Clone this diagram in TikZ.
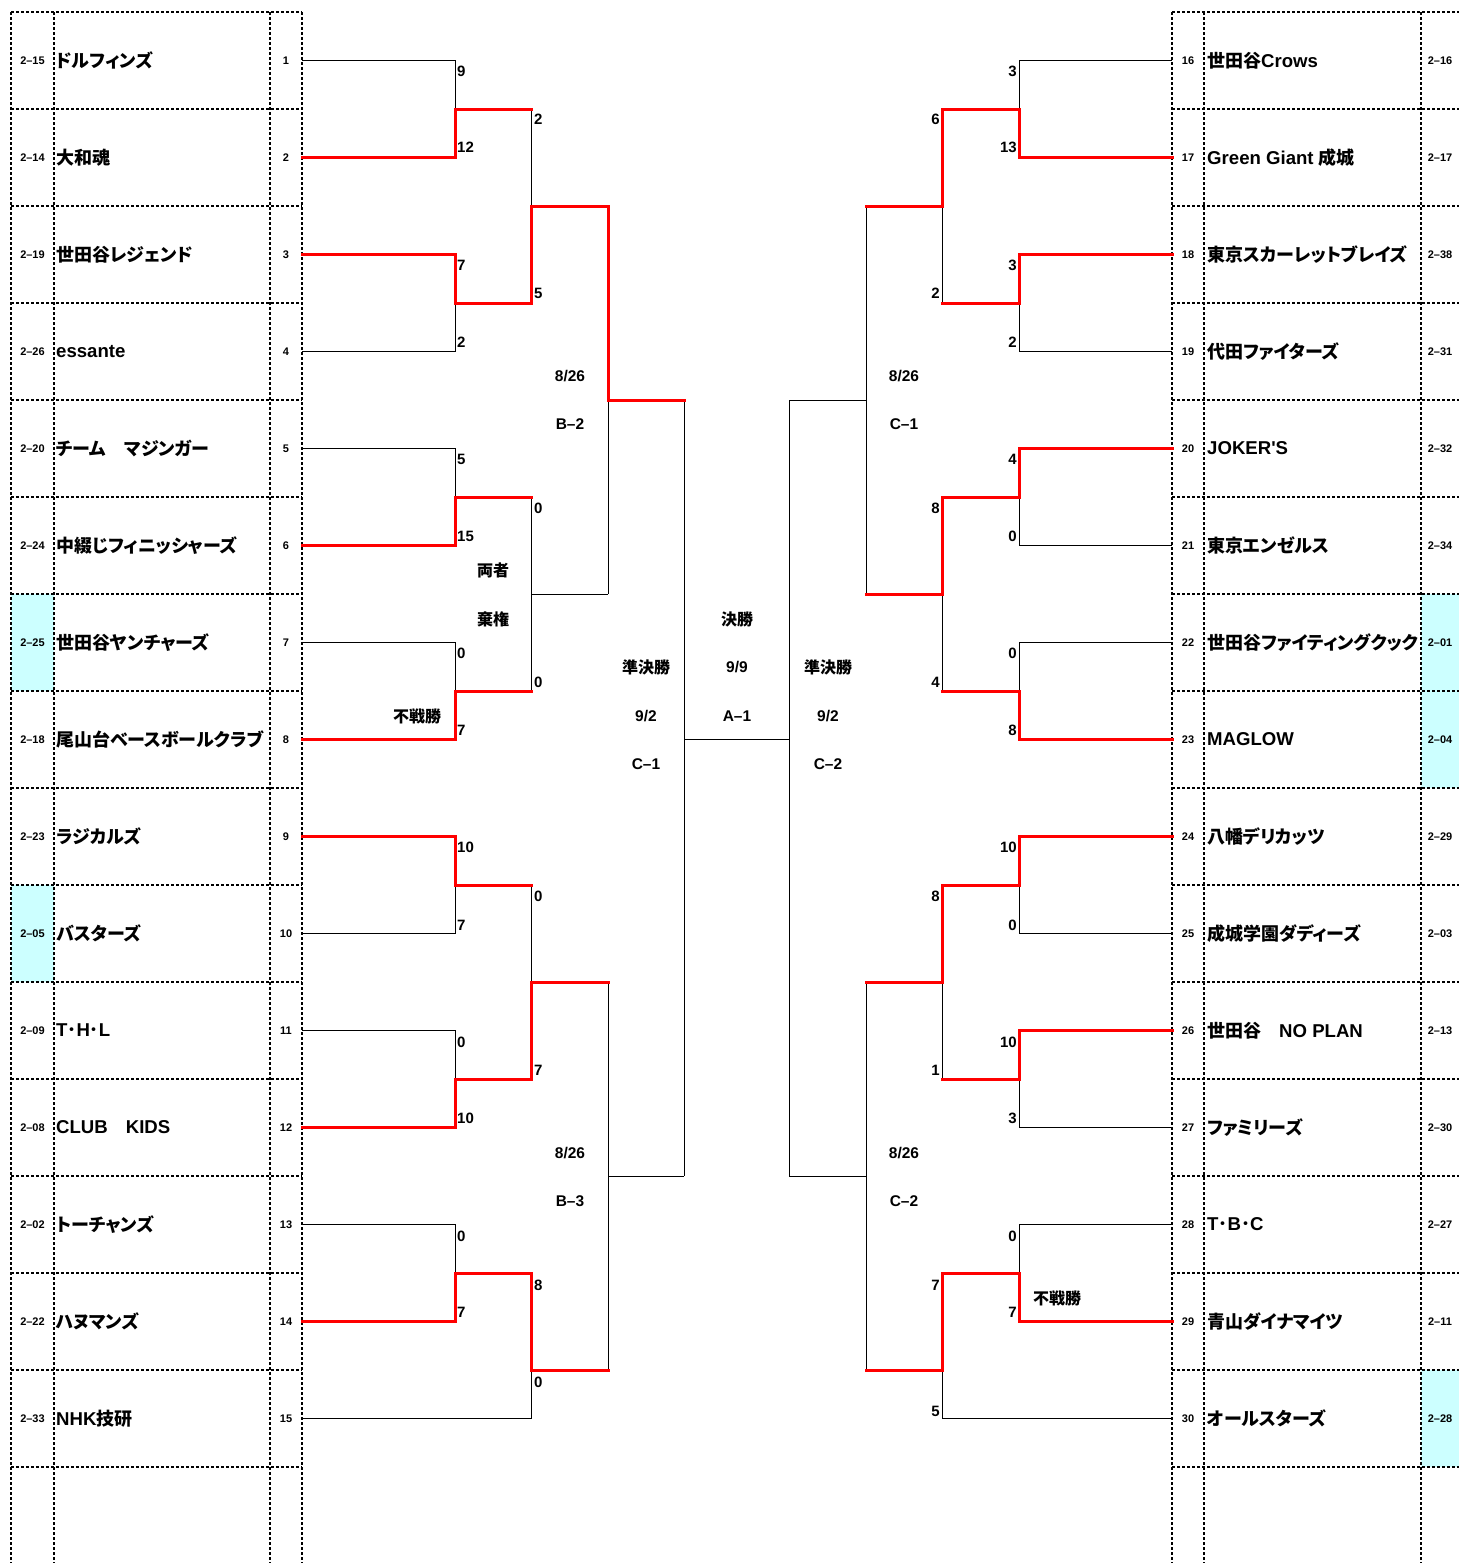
\documentclass[tikz,border=0pt]{standalone}
\usepackage{fontspec}
\setmainfont{Liberation Sans}
\newfontfamily\lsb{Liberation Sans Bold}
\newfontfamily\jp{Noto Sans CJK JP}[RawFeature=+palt]
\newfontfamily\jpn{Noto Sans CJK JP}[RawFeature=+palt, Scale=0.9]
\newfontfamily\latn{Liberation Sans Bold}[Scale=0.93]
\definecolor{cyanfill}{RGB}{204,255,255}
\definecolor{bred}{RGB}{255,0,0}
\pgfdeclarelayer{toplayer}
\pgfsetlayers{main,toplayer}
\tikzset{
  gridline/.style={line width=1.8pt, dash pattern=on 3pt off 2pt},
  lose/.style={line width=1pt, black},
  win/.style={line width=3pt, bred, line cap=rect},
  code/.style={font=\fontsize{11}{11}\selectfont\bfseries\lsb, inner sep=0pt},
  seed/.style={font=\fontsize{11}{11}\selectfont\bfseries\lsb, inner sep=0pt},
  tname/.style={font=\fontsize{20}{20}\selectfont\bfseries\lsb, inner sep=0pt, anchor=west},
  score/.style={font=\fontsize{15}{15}\selectfont\bfseries\lsb, inner sep=0pt},
  lbl/.style={font=\fontsize{15.5}{15.5}\selectfont\bfseries\lsb, inner sep=0pt},
  jlbl/.style={font=\fontsize{16}{16}\selectfont\bfseries\jp, inner sep=0pt},
}
\newcommand\mtop[4]{\draw[lose] (#2) -| (#3);
  \begin{pgfonlayer}{toplayer}\draw[win] (#1) -| (#3) -- (#4);\end{pgfonlayer}}
\newcommand\mbot[4]{\draw[lose] (#1) -| (#3);
  \begin{pgfonlayer}{toplayer}\draw[win] (#2) -| (#3) -- (#4);\end{pgfonlayer}}
\newcommand\mnone[4]{\draw[lose] (#1) -| (#3); \draw[lose] (#2) -| (#3) -- (#4);}
\begin{document}
\begin{tikzpicture}[x=1pt,y=-1pt]
\path[use as bounding box, fill=white] (0,0) rectangle (1459,1563);
% cyan cells
\fill[cyanfill] (11,594) rectangle (54,691);
\fill[cyanfill] (11,885) rectangle (54,982);
\fill[cyanfill] (1421,594) rectangle (1459,788);
\fill[cyanfill] (1421,1370) rectangle (1459,1467);
% grid
\foreach \x in {11,54,270,302,1172,1204,1421} \draw[gridline] (\x,12) -- (\x,1563);
\foreach \k in {0,...,15} {
  \draw[gridline] (11,{12+97*\k}) -- (302,{12+97*\k});
  \draw[gridline] (1172,{12+97*\k}) -- (1459,{12+97*\k});
}
% coordinates
\foreach \i in {1,...,15} \coordinate (s\i) at (302,{12+97*(\i-0.5)});
\foreach \i in {16,...,30} \coordinate (s\i) at (1172,{12+97*(\i-15.5)});
\foreach \k in {1,...,7} {
  \coordinate (la\k) at (455,{12+97*(2*\k-1)});
  \coordinate (lb\k) at (531,{12+97*(2*\k-1)});
  \coordinate (ra\k) at (1019,{12+97*(2*\k-1)});
  \coordinate (rb\k) at (942,{12+97*(2*\k-1)});
}
\foreach \k in {1,...,4} {
  \coordinate (lc\k) at (531,{12+97*(4*\k-2)});
  \coordinate (ld\k) at (608,{12+97*(4*\k-2)});
  \coordinate (rc\k) at (942,{12+97*(4*\k-2)});
  \coordinate (rd\k) at (866,{12+97*(4*\k-2)});
}
\foreach \k in {1,2} {
  \coordinate (le\k) at (608,{12+97*(8*\k-4)});
  \coordinate (lf\k) at (684,{12+97*(8*\k-4)});
  \coordinate (re\k) at (866,{12+97*(8*\k-4)});
  \coordinate (rf\k) at (789,{12+97*(8*\k-4)});
}
\coordinate (lg) at (684,739.5);
\coordinate (rg) at (789,739.5);
% left bracket
\mbot{s1}{s2}{la1}{lb1}
\mtop{s3}{s4}{la2}{lb2}
\mbot{s5}{s6}{la3}{lb3}
\mbot{s7}{s8}{la4}{lb4}
\mtop{s9}{s10}{la5}{lb5}
\mbot{s11}{s12}{la6}{lb6}
\mbot{s13}{s14}{la7}{lb7}
\mbot{lb1}{lb2}{lc1}{ld1}
\mnone{lb3}{lb4}{lc2}{ld2}
\mbot{lb5}{lb6}{lc3}{ld3}
\mtop{lb7}{s15}{lc4}{ld4}
\mtop{ld1}{ld2}{le1}{lf1}
\mnone{ld3}{ld4}{le2}{lf2}
% right bracket
\mbot{s16}{s17}{ra1}{rb1}
\mtop{s18}{s19}{ra2}{rb2}
\mtop{s20}{s21}{ra3}{rb3}
\mbot{s22}{s23}{ra4}{rb4}
\mtop{s24}{s25}{ra5}{rb5}
\mtop{s26}{s27}{ra6}{rb6}
\mbot{s28}{s29}{ra7}{rb7}
\mtop{rb1}{rb2}{rc1}{rd1}
\mtop{rb3}{rb4}{rc2}{rd2}
\mtop{rb5}{rb6}{rc3}{rd3}
\mtop{rb7}{s30}{rc4}{rd4}
\mnone{rd1}{rd2}{re1}{rf1}
\mnone{rd3}{rd4}{re2}{rf2}
% semifinals and final
\draw[lose] (lf1) -- (lf2);
\draw[lose] (rf1) -- (rf2);
\draw[lose] (lg) -- (rg);
% left teams
\foreach \i/\c/\n in {
  1/2–15/{\jpn ドルフィンズ},
  2/2–14/{\jpn 大和魂},
  3/2–19/{\jpn 世田谷レジェンド},
  4/2–26/{\latn essante},
  5/2–20/{\jpn チーム　マジンガー},
  6/2–24/{\jpn 中綴じフィニッシャーズ},
  7/2–25/{\jpn 世田谷ヤンチャーズ},
  8/2–18/{\jpn 尾山台ベースボールクラブ},
  9/2–23/{\jpn ラジカルズ},
  10/2–05/{\jpn バスターズ},
  11/2–09/{\latn T\jpn ･\latn H\jpn ･\latn L},
  12/2–08/{\latn CLUB\jpn 　\latn KIDS},
  13/2–02/{\jpn トーチャンズ},
  14/2–22/{\jpn ハヌマンズ},
  15/2–33/{\latn NHK\jpn 技研}} {
  \node[code] (code\i) at (32.5,{12+97*(\i-0.5)}) {\c};
  \node[tname] (name\i) at (56,{12+97*(\i-0.5)}) {\n};
  \node[seed] (seed\i) at (286,{12+97*(\i-0.5)}) {\i};
}
% right teams
\foreach \i/\c/\n in {
  16/2–16/{\jpn 世田谷\latn Crows},
  17/2–17/{\latn Green Giant \jpn 成城},
  18/2–38/{\jpn 東京スカーレットブレイズ},
  19/2–31/{\jpn 代田ファイターズ},
  20/2–32/{\latn JOKER'S},
  21/2–34/{\jpn 東京エンゼルス},
  22/2–01/{\jpn 世田谷ファイティングクック},
  23/2–04/{\latn MAGLOW},
  24/2–29/{\jpn 八幡デリカッツ},
  25/2–03/{\jpn 成城学園ダディーズ},
  26/2–13/{\jpn 世田谷　\latn NO PLAN},
  27/2–30/{\jpn ファミリーズ},
  28/2–27/{\latn T\jpn ･\latn B\jpn ･\latn C},
  29/2–11/{\jpn 青山ダイナマイツ},
  30/2–28/{\jpn オールスターズ}} {
  \node[seed] (seed\i) at (1188,{12+97*(\i-15.5)}) {\i};
  \node[tname] (name\i) at (1207,{12+97*(\i-15.5)}) {\n};
  \node[code] (code\i) at (1440,{12+97*(\i-15.5)}) {\c};
}
% scores
\foreach \y/\t [count=\n] in {71/9,147/12,265/7,342/2,459/5,536/15,653/0,730/7,847/10,925/7,1042/0,1118/10,1236/0,1312/7}
  \node[score,anchor=west] (sla\n) at (457,\y) {\t};
\foreach \y/\t [count=\n] in {119/2,293/5,508/0,682/0,896/0,1070/7,1285/8,1382/0}
  \node[score,anchor=west] (slb\n) at (534,\y) {\t};
\foreach \y/\t [count=\n] in {71/3,147/13,265/3,342/2,459/4,536/0,653/0,730/8,847/10,925/0,1042/10,1118/3,1236/0,1312/7}
  \node[score,anchor=east] (sra\n) at (1017,\y) {\t};
\foreach \y/\t [count=\n] in {119/6,293/2,508/8,682/4,896/8,1070/1,1285/7,1411/5}
  \node[score,anchor=east] (srb\n) at (940,\y) {\t};
% labels
\node[lbl] (dB2) at (570,376) {8/26};
\node[lbl] (gB2) at (570,424) {B–2};
\node[jlbl] (ryo) at (493,570) {両者};
\node[jlbl] (kik) at (493,619) {棄権};
\node[jlbl] (fsL) at (417,716) {不戦勝};
\node[jlbl] (sfL) at (646,667) {準決勝};
\node[lbl] (dsL) at (646,716) {9/2};
\node[lbl] (gsL) at (646,764) {C–1};
\node[jlbl] (fin) at (737,619) {決勝};
\node[lbl] (dfin) at (737,667) {9/9};
\node[lbl] (gfin) at (737,716) {A–1};
\node[lbl] (dB3) at (570,1153) {8/26};
\node[lbl] (gB3) at (570,1201) {B–3};
\node[jlbl] (sfR) at (828,667) {準決勝};
\node[lbl] (dsR) at (828,716) {9/2};
\node[lbl] (gsR) at (828,764) {C–2};
\node[lbl] (dC1) at (904,376) {8/26};
\node[lbl] (gC1) at (904,424) {C–1};
\node[lbl] (dC2) at (904,1153) {8/26};
\node[lbl] (gC2) at (904,1201) {C–2};
\node[jlbl] (fsR) at (1057,1298) {不戦勝};
\end{tikzpicture}
\end{document}
